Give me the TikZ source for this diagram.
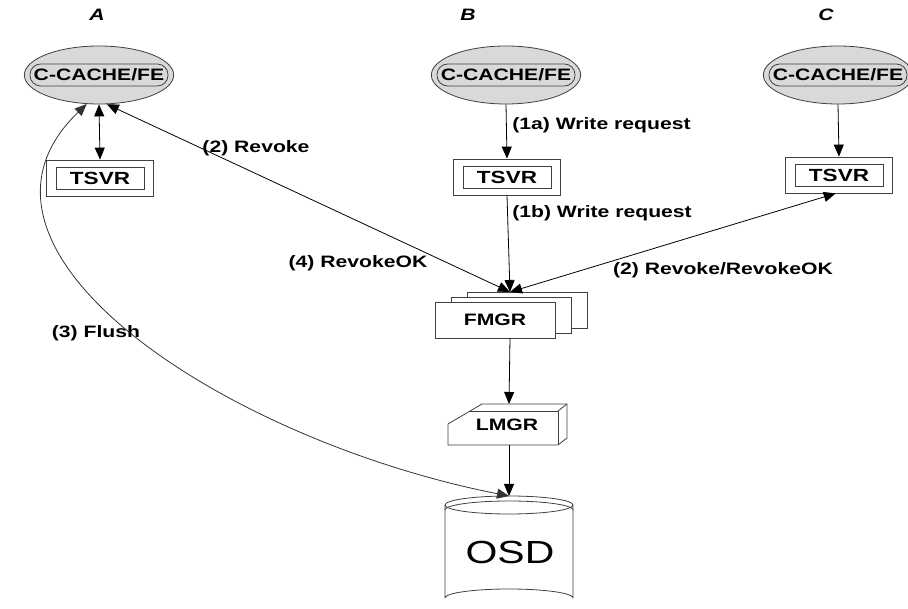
\documentclass[tikz,border=0pt]{standalone}
\usepackage{fontspec}
\newfontfamily\labfont[FakeStretch=1.28]{Liberation Sans}
\usetikzlibrary{arrows.meta,shapes.geometric}
\begin{document}
\begin{tikzpicture}[x=0.75pt,y=-0.75pt,
  lab/.style={font=\labfont\bfseries\fontsize{12.4}{14}\selectfont, inner sep=0pt},
  colhead/.style={font=\labfont\bfseries\itshape\fontsize{12.4}{14}\selectfont, inner sep=0pt},
  outer/.style={ellipse, draw=black!75, line width=0.6pt, fill=black!15,
    minimum width=112pt, minimum height=43.5pt, inner sep=0pt},
  innerbox/.style={draw=black!75, line width=0.6pt, rounded corners=8pt,
    minimum width=103.5pt, minimum height=16.5pt, inner sep=0pt,
    font=\labfont\bfseries\fontsize{12.4}{14}\selectfont},
  tsvrout/.style={draw=black!75, line width=0.6pt, fill=white,
    minimum width=80pt, minimum height=27pt, inner sep=0pt},
  tsvrin/.style={draw=black!75, line width=0.6pt,
    minimum width=66pt, minimum height=16.5pt, inner sep=0pt,
    font=\labfont\bfseries\fontsize{13.2}{15}\selectfont},
  mgr/.style={draw=black!75, line width=0.6pt, fill=white,
    minimum width=90pt, minimum height=27pt, inner sep=0pt},
  solid/.style={draw=black!75, line width=0.6pt, fill=white, line join=round},
  edge/.style={draw=black!75, line width=0.6pt},
  arr/.style={-{Triangle[length=9pt,width=7.5pt]}, line width=0.6pt},
  darr/.style={{Triangle[length=9pt,width=7.5pt]}-{Triangle[length=9pt,width=7.5pt]}, line width=0.6pt}
]
\useasboundingbox (0,0) rectangle (908,609);

% column headings
\node[colhead] (hA) at (97,15) {A};
\node[colhead] (hB) at (468,15) {B};
\node[colhead] (hC) at (826,15) {C};

% client caches
\node[outer] (ca) at (99,75) {};
\node[innerbox] at (ca) {C-CACHE/FE};
\node[outer] (cb) at (506,75) {};
\node[innerbox] at (cb) {C-CACHE/FE};
\node[outer] (cc) at (838,75) {};
\node[innerbox] at (cc) {C-CACHE/FE};

% token servers
\node[tsvrout] (ta) at (100,178) {};
\node[tsvrin] at (ta) {TSVR};
\node[tsvrout] (tb) at (507,177) {};
\node[tsvrin] at (tb) {TSVR};
\node[tsvrout] (tc) at (839,175) {};
\node[tsvrin] at (tc) {TSVR};

% file manager stack
\node[mgr] (fm3) at (527,310) {};
\node[mgr] (fm2) at (511,315) {};
\node[mgr, font=\labfont\bfseries\fontsize{12.4}{14}\selectfont] (fm) at (495,320) {FMGR};
\coordinate (fmtop) at (510,292);
\coordinate (fmbot) at (510,338);

% lock manager box with a cut corner
\path[solid] (448,445) -- (448,424) -- (482,404) -- (567,404) -- (567,438) -- (558,445) -- cycle;
\path[edge] (470,411) -- (558,411) -- (558,445);
\path[edge] (558,411) -- (567,404);
\node[lab] (lm) at (507,425) {LMGR};
\coordinate (lmtop) at (509,404);
\coordinate (lmbot) at (509,445);

% object storage device
\path[solid] (445,505) -- (445,598) arc[start angle=180, end angle=360, x radius=64, y radius=9]
  -- (573,505) arc[start angle=0, end angle=180, x radius=64, y radius=9] -- cycle;
\draw[edge] (445,505) arc[start angle=180, end angle=360, x radius=64, y radius=9];
\draw[edge] (445,510) arc[start angle=180, end angle=360, x radius=64, y radius=9];
\node[font=\labfont\fontsize{24}{28}\selectfont, inner sep=0pt] (osd) at (510,552) {OSD};
\coordinate (osdtop) at (509,496);

% connectors
\draw[darr] (ca.south) -- (ta.north);
\draw[arr] (cb.south) -- (tb.north);
\draw[arr] (cc.south) -- (tc.north);
\draw[arr] (tb.south) -- (fmtop);
\draw[darr] (ca.-75) -- (fmtop);
\draw[darr] (tc.-100) -- (fmtop);
\draw[arr] (fmbot) -- (lmtop);
\draw[arr] (lmbot) -- (osdtop);
\draw[darr, black!80] (ca.-113) .. controls (-65,250) and (225,440) .. (osdtop);

% labels
\node[lab, anchor=west] at (512,125) {(1a) Write request};
\node[lab, anchor=west] at (512,213) {(1b) Write request};
\node[lab] at (256,148) {(2) Revoke};
\node[lab] at (358,263) {(4) RevokeOK};
\node[lab] at (723,270) {(2) Revoke/RevokeOK};
\node[lab] at (96,333) {(3) Flush};
\end{tikzpicture}
\end{document}
